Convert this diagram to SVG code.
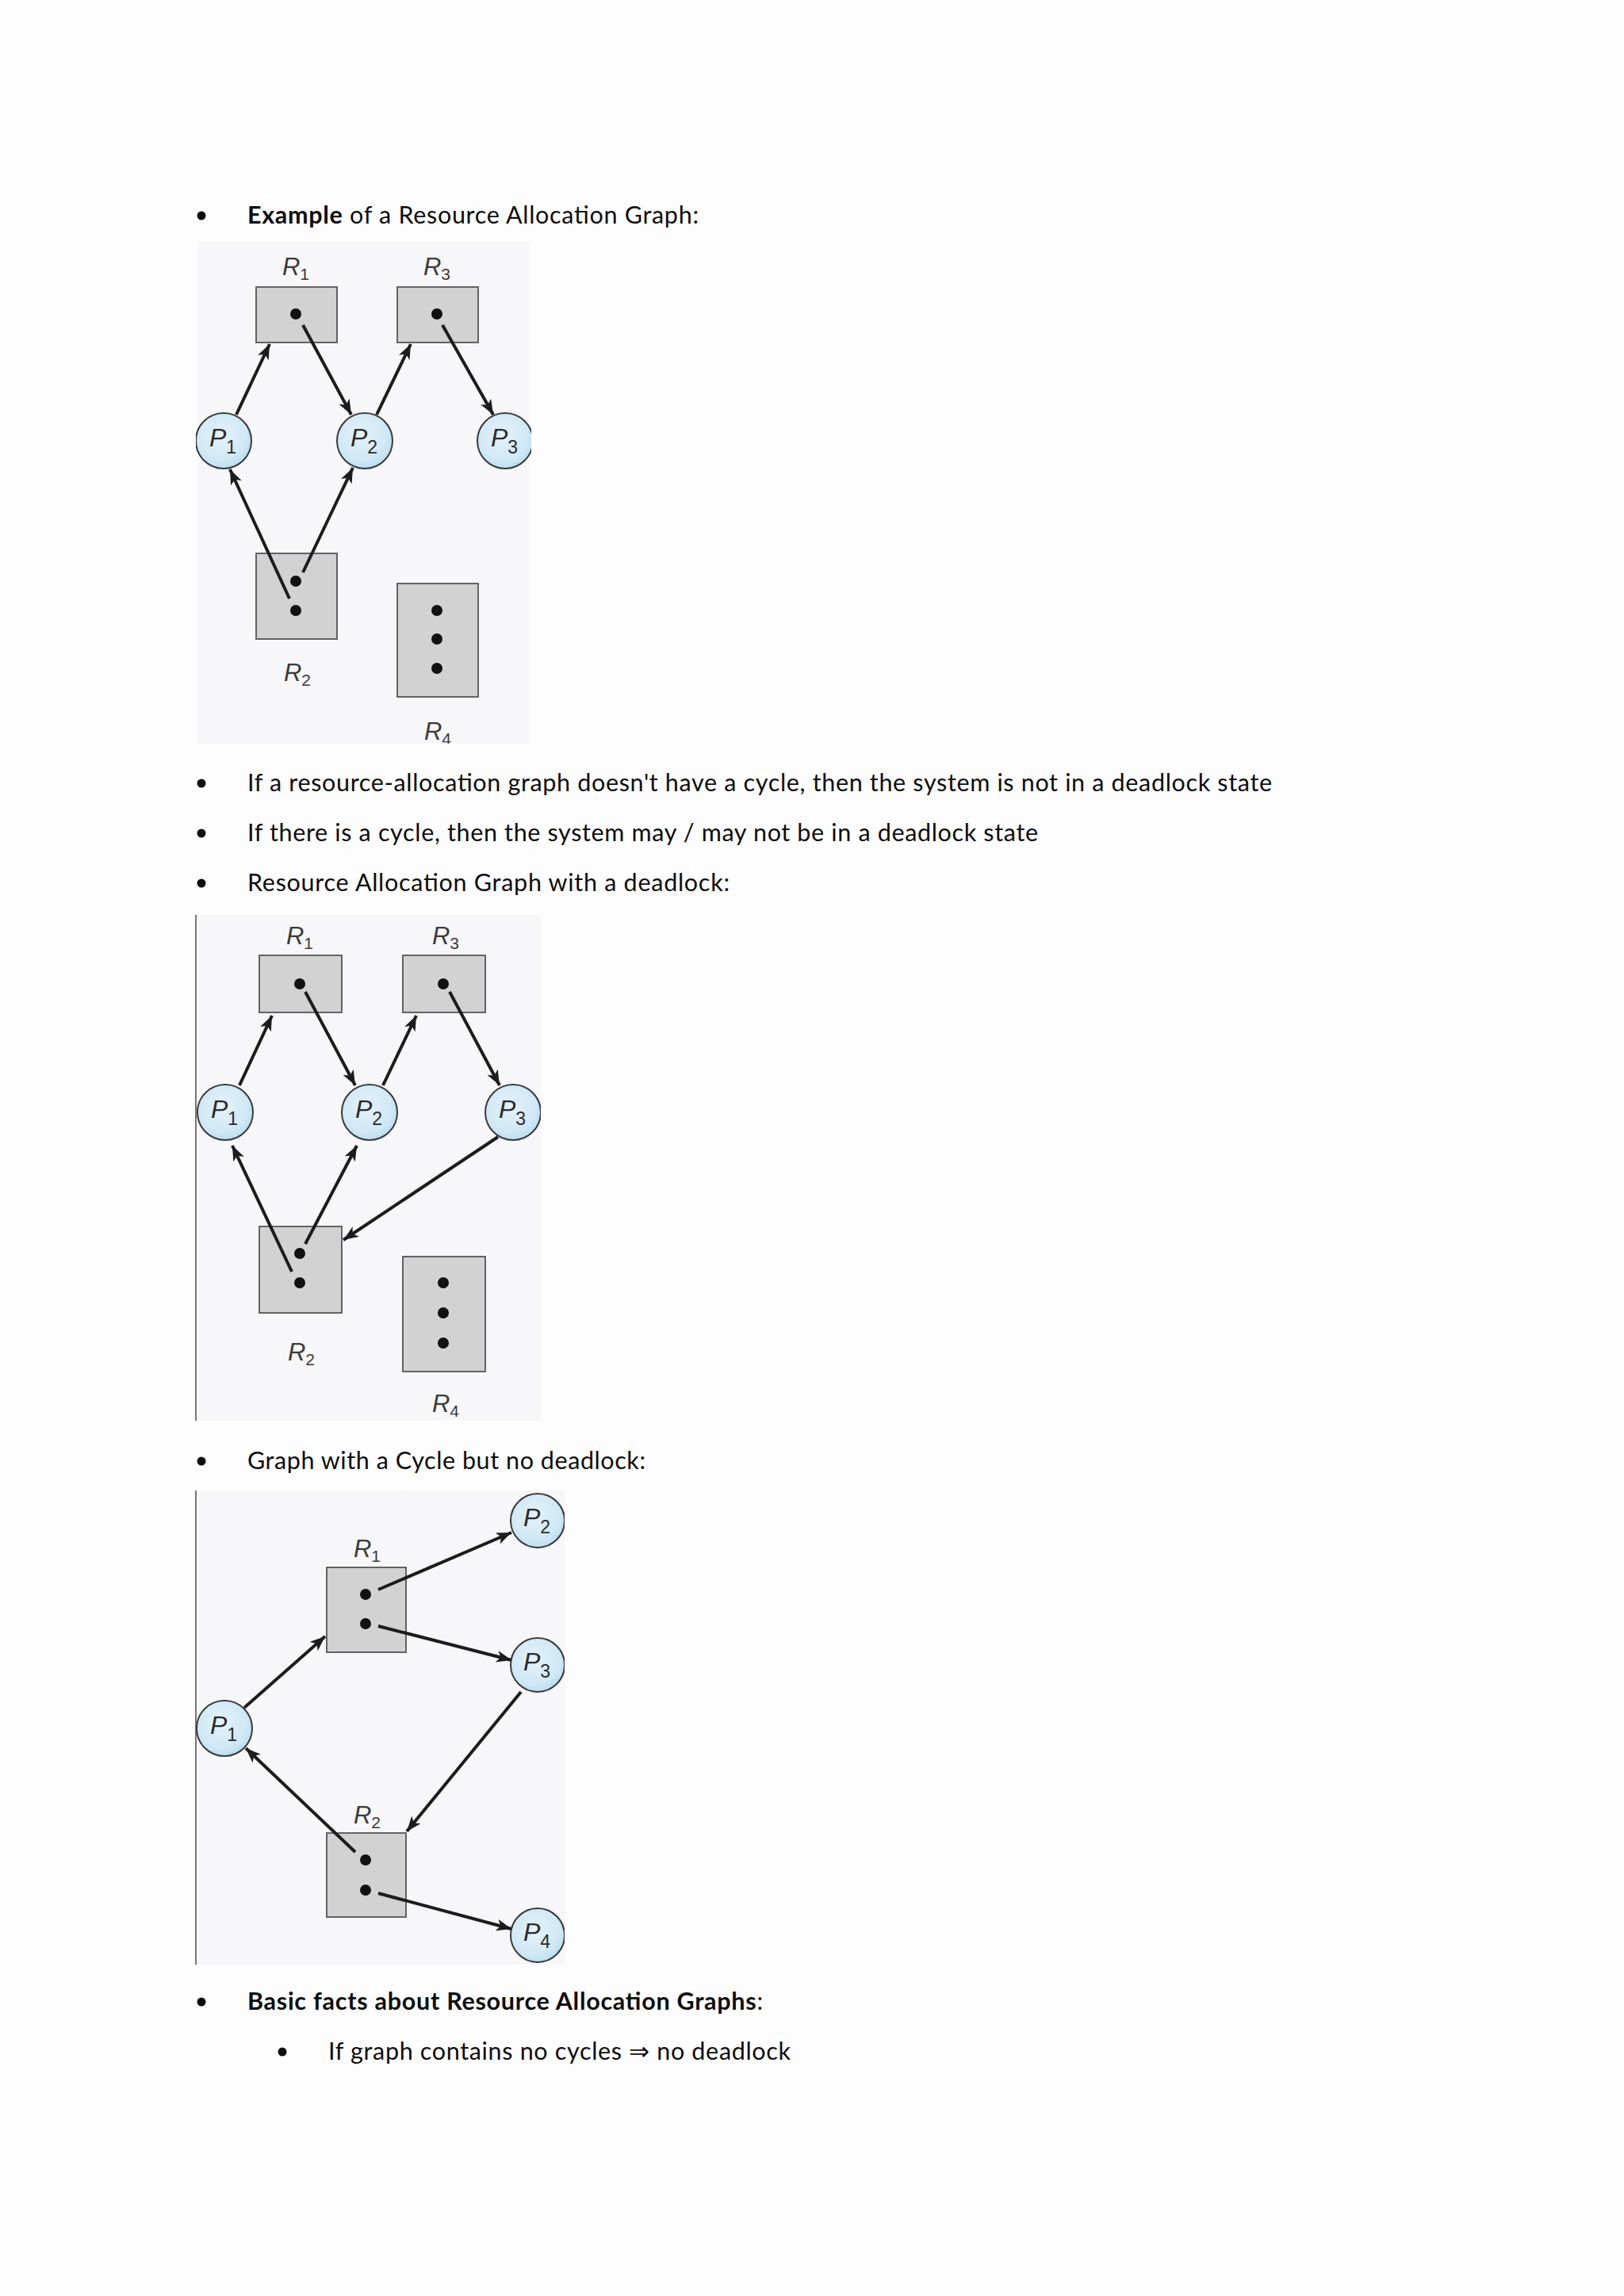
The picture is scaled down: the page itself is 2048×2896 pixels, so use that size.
<svg xmlns="http://www.w3.org/2000/svg" width="2048" height="2896" viewBox="0 0 2048 2896">
<defs>
<style>
.body{font-family:Lato,"Open Sans","Liberation Sans",sans-serif;font-size:30.5px;fill:#0d0d0d}
.b{font-weight:bold}
.lbl{font-family:"Liberation Sans",Arial,sans-serif;fill:#3a3a3a;text-anchor:middle}
.lbl .m{font-style:italic;font-size:31px}
.lbl .s{font-size:21px}
.plbl{font-family:"Liberation Sans",Arial,sans-serif;fill:#2a2a2a;text-anchor:middle}
.plbl .m{font-style:italic;font-size:32px}
.plbl .s{font-size:23px}
.res{fill:#d2d2d2;stroke:#555;stroke-width:1.8}
.proc{fill:url(#pg);stroke:#3a3a3a;stroke-width:2}
.dot{fill:#111}
.edge{stroke:#1c1c1c;stroke-width:4;fill:none;marker-end:url(#ah)}
.panel{fill:#f7f6f9}
.vline{stroke:#777;stroke-width:2}
</style>
<radialGradient id="pg" cx="0.45" cy="0.4" r="0.65">
<stop offset="0" stop-color="#e4f2fa"/>
<stop offset="0.7" stop-color="#d0e8f6"/>
<stop offset="1" stop-color="#b6daee"/>
</radialGradient>
<marker id="ah" markerUnits="userSpaceOnUse" markerWidth="22" markerHeight="16" refX="19" refY="7.5" orient="auto">
<path d="M0,0 L19,7.5 L0,15 L5,7.5 z" fill="#1c1c1c"/>
</marker>
<clipPath id="c1"><rect x="247" y="305" width="423" height="633"/></clipPath>
<clipPath id="c2"><rect x="247" y="1154" width="435" height="638"/></clipPath>
<clipPath id="c3"><rect x="247" y="1880" width="465" height="598"/></clipPath>
</defs>
<rect width="2048" height="2896" fill="#fefdfe"/>

<!-- text -->
<g id="text">
<circle cx="254" cy="272" r="5.5" fill="#0d0d0d"/>
<text class="body" x="312" y="282" textLength="569"><tspan class="b">Example</tspan> of a Resource Allocation Graph:</text>
<circle cx="254" cy="988" r="5.5" fill="#0d0d0d"/>
<text class="body" x="312" y="998" textLength="1292">If a resource-allocation graph doesn't have a cycle, then the system is not in a deadlock state</text>
<circle cx="254" cy="1051" r="5.5" fill="#0d0d0d"/>
<text class="body" x="312" y="1061" textLength="997">If there is a cycle, then the system may / may not be in a deadlock state</text>
<circle cx="254" cy="1114" r="5.5" fill="#0d0d0d"/>
<text class="body" x="312" y="1124" textLength="608">Resource Allocation Graph with a deadlock:</text>
<circle cx="254" cy="1843" r="5.5" fill="#0d0d0d"/>
<text class="body" x="312" y="1853" textLength="502">Graph with a Cycle but no deadlock:</text>
<circle cx="254" cy="2525" r="5.5" fill="#0d0d0d"/>
<text class="body" x="312" y="2535" textLength="650"><tspan class="b">Basic facts about Resource Allocation Graphs</tspan>:</text>
<circle cx="356" cy="2588" r="5.5" fill="#0d0d0d"/>
<text class="body" x="414" y="2598" textLength="583">If graph contains no cycles ⇒ no deadlock</text>
</g>

<!-- Diagram 1 -->
<g id="diagram1">
<rect class="panel" x="249" y="305" width="419" height="633"/>
<g clip-path="url(#c1)">
<g id="d1-R1"><rect class="res" x="323" y="362" width="102" height="70"/><circle class="dot" cx="373" cy="396" r="7"/>
<text class="lbl" x="373" y="347"><tspan class="m">R</tspan><tspan class="s" dy="6">1</tspan></text></g>
<g id="d1-R3"><rect class="res" x="501" y="362" width="102" height="70"/><circle class="dot" cx="551" cy="396" r="7"/>
<text class="lbl" x="551" y="347"><tspan class="m">R</tspan><tspan class="s" dy="6">3</tspan></text></g>
<g id="d1-R2"><rect class="res" x="323" y="698" width="102" height="108"/><circle class="dot" cx="373" cy="733" r="7"/><circle class="dot" cx="373" cy="770" r="7"/>
<text class="lbl" x="375" y="859"><tspan class="m">R</tspan><tspan class="s" dy="6">2</tspan></text></g>
<g id="d1-R4"><rect class="res" x="501" y="736" width="102" height="143"/><circle class="dot" cx="551" cy="770" r="7"/><circle class="dot" cx="551" cy="806" r="7"/><circle class="dot" cx="551" cy="843" r="7"/>
<text class="lbl" x="552" y="933"><tspan class="m">R</tspan><tspan class="s" dy="6">4</tspan></text></g>
<g id="d1-P1"><circle class="proc" cx="282" cy="556" r="35"/><text class="plbl" x="281" y="563"><tspan class="m">P</tspan><tspan class="s" dy="9">1</tspan></text></g>
<g id="d1-P2"><circle class="proc" cx="460" cy="556" r="35"/><text class="plbl" x="459" y="563"><tspan class="m">P</tspan><tspan class="s" dy="9">2</tspan></text></g>
<g id="d1-P3"><circle class="proc" cx="637" cy="556" r="35"/><text class="plbl" x="636" y="563"><tspan class="m">P</tspan><tspan class="s" dy="9">3</tspan></text></g>
<g id="d1-edges">
<line class="edge" x1="298" y1="523" x2="340" y2="434"/>
<line class="edge" x1="382" y1="410" x2="443" y2="523"/>
<line class="edge" x1="475" y1="523" x2="518" y2="434"/>
<line class="edge" x1="558" y1="410" x2="622" y2="523"/>
<line class="edge" x1="365" y1="755" x2="290" y2="592"/>
<line class="edge" x1="382" y1="722" x2="445" y2="590"/>
</g>
</g>
</g>

<!-- Diagram 2 -->
<g id="diagram2">
<rect class="panel" x="247" y="1154" width="435" height="638"/>
<line class="vline" x1="247" y1="1154" x2="247" y2="1792"/>
<g clip-path="url(#c2)">
<g id="d2-R1"><rect class="res" x="327" y="1205" width="104" height="72"/><circle class="dot" cx="378" cy="1241" r="7"/>
<text class="lbl" x="378" y="1191"><tspan class="m">R</tspan><tspan class="s" dy="6">1</tspan></text></g>
<g id="d2-R3"><rect class="res" x="508" y="1205" width="104" height="72"/><circle class="dot" cx="559" cy="1241" r="7"/>
<text class="lbl" x="562" y="1191"><tspan class="m">R</tspan><tspan class="s" dy="6">3</tspan></text></g>
<g id="d2-R2"><rect class="res" x="327" y="1547" width="104" height="109"/><circle class="dot" cx="378" cy="1581" r="7"/><circle class="dot" cx="378" cy="1618" r="7"/>
<text class="lbl" x="380" y="1716"><tspan class="m">R</tspan><tspan class="s" dy="6">2</tspan></text></g>
<g id="d2-R4"><rect class="res" x="508" y="1585" width="104" height="145"/><circle class="dot" cx="559" cy="1618" r="7"/><circle class="dot" cx="559" cy="1656" r="7"/><circle class="dot" cx="559" cy="1694" r="7"/>
<text class="lbl" x="562" y="1781"><tspan class="m">R</tspan><tspan class="s" dy="6">4</tspan></text></g>
<g id="d2-P1"><circle class="proc" cx="284" cy="1403" r="35"/><text class="plbl" x="283" y="1410"><tspan class="m">P</tspan><tspan class="s" dy="9">1</tspan></text></g>
<g id="d2-P2"><circle class="proc" cx="466" cy="1403" r="35"/><text class="plbl" x="465" y="1410"><tspan class="m">P</tspan><tspan class="s" dy="9">2</tspan></text></g>
<g id="d2-P3"><circle class="proc" cx="647" cy="1403" r="35"/><text class="plbl" x="646" y="1410"><tspan class="m">P</tspan><tspan class="s" dy="9">3</tspan></text></g>
<g id="d2-edges">
<line class="edge" x1="302" y1="1369" x2="343" y2="1281"/>
<line class="edge" x1="385" y1="1251" x2="448" y2="1369"/>
<line class="edge" x1="483" y1="1369" x2="525" y2="1281"/>
<line class="edge" x1="567" y1="1251" x2="630" y2="1369"/>
<line class="edge" x1="628" y1="1434" x2="433" y2="1564"/>
<line class="edge" x1="368" y1="1604" x2="293" y2="1445"/>
<line class="edge" x1="385" y1="1569" x2="450" y2="1445"/>
</g>
</g>
</g>

<!-- Diagram 3 -->
<g id="diagram3">
<rect class="panel" x="247" y="1880" width="465" height="598"/>
<line class="vline" x1="247" y1="1880" x2="247" y2="2478"/>
<g clip-path="url(#c3)">
<g id="d3-R1"><rect class="res" x="412" y="1977" width="100" height="107"/><circle class="dot" cx="461" cy="2011" r="7"/><circle class="dot" cx="461" cy="2048" r="7"/>
<text class="lbl" x="463" y="1964"><tspan class="m">R</tspan><tspan class="s" dy="6">1</tspan></text></g>
<g id="d3-R2"><rect class="res" x="412" y="2312" width="100" height="106"/><circle class="dot" cx="461" cy="2346" r="7"/><circle class="dot" cx="461" cy="2384" r="7"/>
<text class="lbl" x="463" y="2300"><tspan class="m">R</tspan><tspan class="s" dy="6">2</tspan></text></g>
<g id="d3-P1"><circle class="proc" cx="283" cy="2180" r="35"/><text class="plbl" x="282" y="2187"><tspan class="m">P</tspan><tspan class="s" dy="9">1</tspan></text></g>
<g id="d3-P2"><circle class="proc" cx="678" cy="1918" r="34"/><text class="plbl" x="677" y="1925"><tspan class="m">P</tspan><tspan class="s" dy="9">2</tspan></text></g>
<g id="d3-P3"><circle class="proc" cx="678" cy="2100" r="34"/><text class="plbl" x="677" y="2107"><tspan class="m">P</tspan><tspan class="s" dy="9">3</tspan></text></g>
<g id="d3-P4"><circle class="proc" cx="678" cy="2441" r="34"/><text class="plbl" x="677" y="2448"><tspan class="m">P</tspan><tspan class="s" dy="9">4</tspan></text></g>
<g id="d3-edges">
<line class="edge" x1="477" y1="2005" x2="645" y2="1933"/>
<line class="edge" x1="477" y1="2051" x2="645" y2="2094"/>
<line class="edge" x1="308" y1="2154" x2="410" y2="2064"/>
<line class="edge" x1="657" y1="2134" x2="513" y2="2310"/>
<line class="edge" x1="448" y1="2336" x2="310" y2="2205"/>
<line class="edge" x1="477" y1="2388" x2="645" y2="2433"/>
</g>
</g>
</g>
</svg>
